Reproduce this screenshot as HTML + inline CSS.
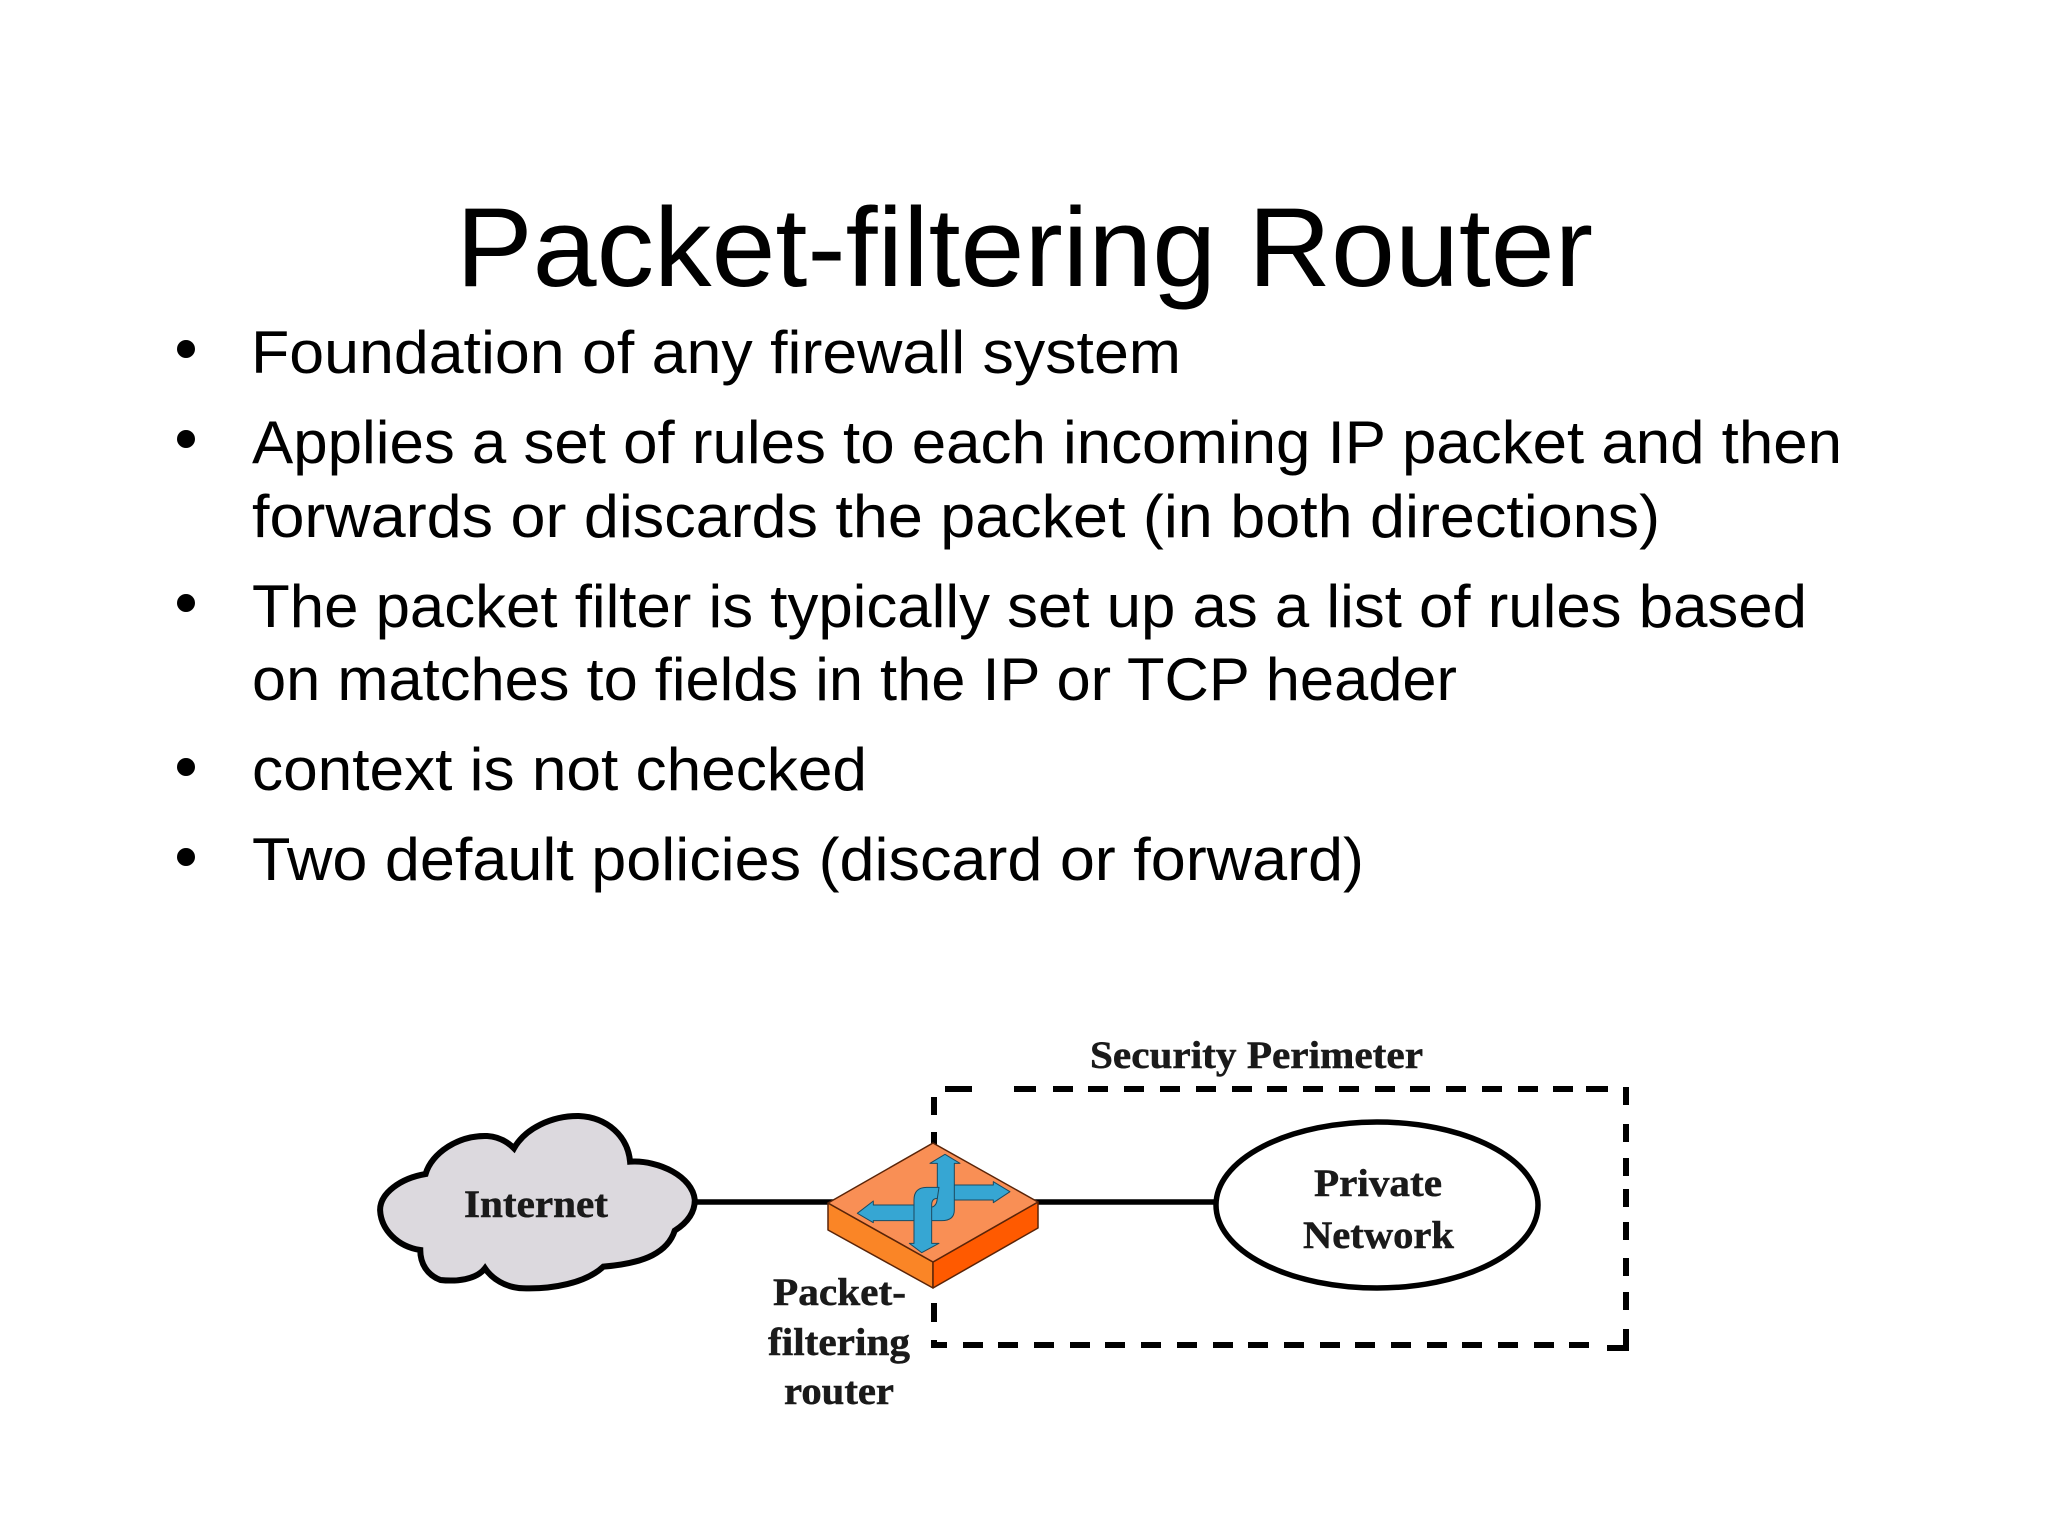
<!DOCTYPE html>
<html lang="en">
<head>
<meta charset="utf-8">
<title>Packet-filtering Router</title>
<style>
html,body{margin:0;padding:0;background:#fff;width:2048px;height:1536px;overflow:hidden}
svg{display:block}
.b{font-family:"Liberation Sans",sans-serif;font-size:60px;fill:#000}
.s{font-family:"Liberation Serif",serif;font-weight:bold;font-size:39px;fill:#1a1a1a;stroke:#1a1a1a;stroke-width:.5}
</style>
</head>
<body>
<svg width="2048" height="1536" viewBox="0 0 2048 1536" xmlns="http://www.w3.org/2000/svg">
<rect width="2048" height="1536" fill="#fff"/>

<text x="456" y="286" font-family="'Liberation Sans',sans-serif" font-size="112" fill="#000" textLength="1137" lengthAdjust="spacingAndGlyphs">Packet-filtering Router</text>

<g fill="#000">
<circle cx="186" cy="349" r="9"/>
<circle cx="186" cy="439" r="9"/>
<circle cx="186" cy="603" r="9"/>
<circle cx="186" cy="767" r="9"/>
<circle cx="186" cy="857" r="9"/>
</g>

<text class="b" x="251" y="373" textLength="930" lengthAdjust="spacingAndGlyphs">Foundation of any firewall system</text>
<text class="b" x="252" y="463" textLength="1590" lengthAdjust="spacingAndGlyphs">Applies a set of rules to each incoming IP packet and then</text>
<text class="b" x="252" y="537" textLength="1408" lengthAdjust="spacingAndGlyphs">forwards or discards the packet (in both directions)</text>
<text class="b" x="252" y="627" textLength="1555" lengthAdjust="spacingAndGlyphs">The packet filter is typically set up as a list of rules based</text>
<text class="b" x="252" y="700" textLength="1205" lengthAdjust="spacingAndGlyphs">on matches to fields in the IP or TCP header</text>
<text class="b" x="252" y="790" textLength="615" lengthAdjust="spacingAndGlyphs">context is not checked</text>
<text class="b" x="252" y="880" textLength="1112" lengthAdjust="spacingAndGlyphs">Two default policies (discard or forward)</text>

<!-- connector -->
<line x1="690" y1="1202" x2="1220" y2="1202" stroke="#000" stroke-width="5.5"/>

<!-- dashed perimeter -->
<g stroke="#000" stroke-width="6" fill="none">
<path d="M945 1089H972M1014 1089H1036"/>
<path d="M1053 1089H1073M1088 1089H1108M1124 1089H1144M1160 1089H1180M1196 1089H1216M1232 1089H1252M1267 1089H1287M1303 1089H1323M1339 1089H1359M1375 1089H1395M1410 1089H1430M1446 1089H1466M1482 1089H1502M1518 1089H1538M1553 1089H1573M1586 1089H1608"/>
<path d="M1626 1087V1105M1626 1124V1142M1626 1158V1176M1626 1189V1207M1626 1222V1240M1626 1258V1276M1626 1292V1310M1626 1329V1348H1607"/>
<path d="M934 1097V1115M934 1132V1145M934 1303V1322"/>
<path d="M934 1340V1345H947M963 1345H983M998 1345H1018M1034 1345H1054M1070 1345H1090M1105 1345H1125M1141 1345H1161M1177 1345H1197M1213 1345H1233M1248 1345H1268M1284 1345H1304M1320 1345H1340M1355 1345H1375M1391 1345H1411M1427 1345H1447M1462 1345H1482M1498 1345H1518M1534 1345H1554M1569 1345H1589"/>
</g>

<!-- cloud -->
<g transform="translate(360 1020) scale(.4464 .3333)">
<path d="M135 690C85 680 47 630 45 570C45 520 90 475 147 462C160 400 220 345 285 348C310 350 330 365 345 385C370 325 430 287 490 288C555 292 600 350 605 425C670 420 745 470 750 540C750 585 725 615 705 632C690 695 640 730 545 740C505 790 430 808 365 805C325 803 295 775 280 745C260 780 215 785 180 780C150 765 135 730 135 690Z" fill="#dcd9de" stroke="#000" stroke-width="6" vector-effect="non-scaling-stroke"/>
</g>

<!-- ellipse -->
<ellipse cx="1377" cy="1205" rx="161" ry="83" fill="#fff" stroke="#000" stroke-width="5.5"/>

<!-- router -->
<g stroke="#5a2408" stroke-width="1.5" stroke-linejoin="round">
<polygon points="828,1203 933,1262 933,1288 828,1230" fill="#fa8526"/>
<polygon points="1038,1202 933,1262 933,1288 1038,1228" fill="#ff5a00"/>
<polygon points="933,1143 1038,1202 933,1262 828,1203" fill="#f98f55"/>
</g>
<g transform="translate(820 1130) scale(.3333)" fill="#36a6d3" stroke="#1c4a60" stroke-width="3" stroke-linejoin="round">
<path d="M395 165H520V155L570 185L520 218V210H395Z"/>
<path d="M352 100H330L375 73L420 100H403V240Q403 272 365 272H330V232Q352 232 352 200Z"/>
<path d="M285 225H160V213L112 250L160 278V272H285Z"/>
<path d="M282 340H268L305 368L357 340H335V225Q335 205 352 205L357 172H320Q282 172 282 210Z"/>
</g>

<!-- labels -->
<text class="s" x="464" y="1217" textLength="144" lengthAdjust="spacingAndGlyphs">Internet</text>
<text class="s" x="1090" y="1068" textLength="333" lengthAdjust="spacingAndGlyphs">Security Perimeter</text>
<text class="s" x="1314" y="1196" textLength="128" lengthAdjust="spacingAndGlyphs">Private</text>
<text class="s" x="1303" y="1248" textLength="151" lengthAdjust="spacingAndGlyphs">Network</text>
<text class="s" x="773" y="1305" textLength="133" lengthAdjust="spacingAndGlyphs">Packet-</text>
<text class="s" x="768" y="1355" textLength="142" lengthAdjust="spacingAndGlyphs">filtering</text>
<text class="s" x="784" y="1404" textLength="110" lengthAdjust="spacingAndGlyphs">router</text>
</svg>
</body>
</html>
